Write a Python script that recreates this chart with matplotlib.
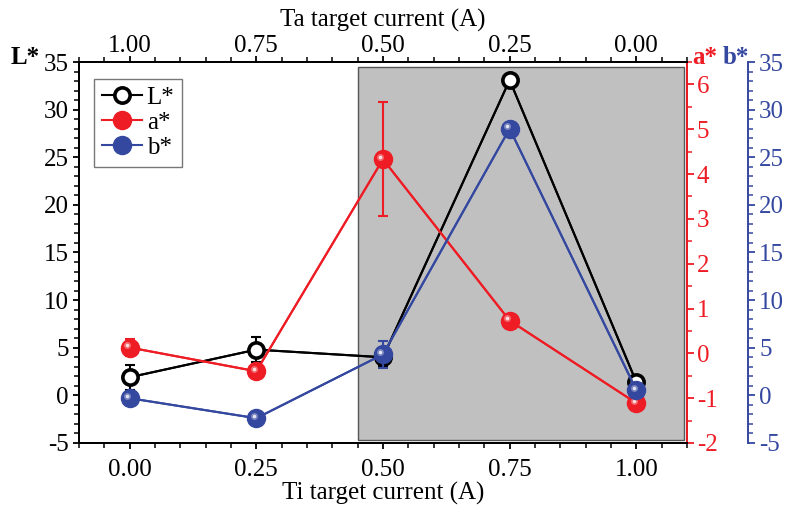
import matplotlib
matplotlib.use("Agg")
import matplotlib.pyplot as plt
from matplotlib.patches import Rectangle
from matplotlib.ticker import MultipleLocator, FormatStrFormatter
from matplotlib import transforms

plt.rcParams['font.family'] = ['Liberation Serif', 'DejaVu Serif']
plt.rcParams['axes.unicode_minus'] = False
plt.rcParams['font.size'] = 18

# data
ti_current = [0.00, 0.25, 0.50, 0.75, 1.00]
L_star = [1.9, 4.8, 4.0, 33.1, 1.4]
L_err = [1.3, 1.3, 0.9, 0.3, 0.3]
a_star = [0.13, -0.40, 4.33, 0.73, -1.11]
a_err = [0.2, 0.15, 1.27, 0.1, 0.1]
b_star = [-0.3, -2.4, 4.3, 28.0, 0.56]
b_err = [0.3, 0.3, 1.4, 0.5, 0.3]

red = '#ee1c24'
blue = '#3548a0'

fig = plt.figure(figsize=(7.92, 5.13), dpi=100)
ax = fig.add_axes([0.0997, 0.1365, 0.7677, 0.7426])
ax_a = ax.twinx()
ax_b = ax.twinx()
ax_b.spines['right'].set_position(('outward', 44))

# shaded region
ax.add_patch(Rectangle((0.45, -4.7), 0.644, 39.2, facecolor='#c0c0c0',
                       edgecolor='#555555', lw=1.0, zorder=0))

def highlight(axis, xs, ys):
    # soft white spot to mimic the shaded spheres
    tr = transforms.offset_copy(axis.transData, fig=fig, x=-1.8, y=1.8, units='points')
    axis.plot(xs, ys, 'o', ms=5, color='white', alpha=0.35, mec='none',
              transform=tr, zorder=5)
    axis.plot(xs, ys, 'o', ms=2.5, color='white', alpha=0.8, mec='none',
              transform=tr, zorder=5)

ax.errorbar(ti_current, L_star, yerr=L_err, color='black', lw=1.5, capsize=3.5,
            elinewidth=1.5, capthick=1.5, zorder=2)
hL, = ax.plot(ti_current, L_star, '-o', color='black', lw=1.5, ms=11,
              mfc='white', mec='black', mew=2.6, label='L*', zorder=3)

ax_a.errorbar(ti_current, a_star, yerr=a_err, color=red, lw=1.5, capsize=3.5,
              elinewidth=1.5, capthick=1.5, zorder=2)
ha, = ax_a.plot(ti_current, a_star, '-o', color=red, lw=1.5, ms=13,
                mfc=red, mec=red, label='a*', zorder=3)
highlight(ax_a, ti_current, a_star)

ax_b.errorbar(ti_current, b_star, yerr=b_err, color=blue, lw=1.5, capsize=3.5,
              elinewidth=1.5, capthick=1.5, zorder=2)
hb, = ax_b.plot(ti_current, b_star, '-o', color=blue, lw=1.5, ms=13,
                mfc=blue, mec=blue, label='b*', zorder=3)
highlight(ax_b, ti_current, b_star)

# limits and ticks
ax.set_xlim(-0.1, 1.1)
ax.set_ylim(-5, 35)
ax_a.set_ylim(-2, 6.5)
ax_b.set_ylim(-5, 35)

ax.xaxis.set_major_locator(MultipleLocator(0.25))
ax.xaxis.set_minor_locator(MultipleLocator(0.05))
ax.xaxis.set_major_formatter(FormatStrFormatter('%.2f'))
ax.yaxis.set_major_locator(MultipleLocator(5))
ax.yaxis.set_minor_locator(MultipleLocator(1))
ax.tick_params(axis='both', which='major', direction='out', length=4.5, width=1.3, pad=3)
ax.tick_params(axis='both', which='minor', direction='out', length=3.5, width=1.1)
ax.tick_params(axis='x', which='major', pad=7)

ax_a.yaxis.set_major_locator(MultipleLocator(1))
ax_a.yaxis.set_minor_locator(MultipleLocator(0.5))
ax_a.tick_params(axis='y', which='major', direction='out', length=5, width=1.3,
                 colors=red, pad=2)
ax_a.tick_params(axis='y', which='minor', direction='out', length=3.5, width=1.1, colors=red)

ax_b.yaxis.set_major_locator(MultipleLocator(5))
ax_b.yaxis.set_minor_locator(MultipleLocator(1))
ax_b.tick_params(axis='y', which='major', direction='out', length=5, width=1.3,
                 colors=blue, pad=3)
ax_b.tick_params(axis='y', which='minor', direction='out', length=3.5, width=1.1, colors=blue)

for a_ in (ax, ax_a, ax_b):
    for s in a_.spines.values():
        s.set_linewidth(1.4)
ax_a.spines['right'].set_color(red)
ax_b.spines['right'].set_color(blue)

# top axis: Ta target current runs the other way
top = ax.secondary_xaxis('top', functions=(lambda v: 1 - v, lambda v: 1 - v))
top.xaxis.set_major_locator(MultipleLocator(0.25))
top.xaxis.set_minor_locator(MultipleLocator(0.05))
top.xaxis.set_major_formatter(FormatStrFormatter('%.2f'))
top.tick_params(which='major', direction='out', length=4.5, width=1.3, pad=-1)
top.tick_params(which='minor', direction='out', length=3.5, width=1.1)
top.spines['top'].set_linewidth(1.4)
top.set_xlabel('Ta target current (A)', labelpad=6)

ax.set_xlabel('Ti target current (A)', labelpad=1)

# axis titles
fig.text(0.013, 0.888, 'L*', fontweight='bold', fontsize=18, ha='left', va='center')
fig.text(0.874, 0.888, 'a*', fontweight='bold', fontsize=18, color=red, ha='left', va='center')
fig.text(0.913, 0.888, 'b*', fontweight='bold', fontsize=18, color=blue, ha='left', va='center')

leg = ax.legend(handles=[hL, ha, hb], loc='upper left', bbox_to_anchor=(0.025, 0.955),
                fontsize=18, frameon=True, fancybox=False, borderpad=0.3,
                handlelength=1.6, handletextpad=0.2, labelspacing=0.1,
                borderaxespad=0)
leg.get_frame().set_edgecolor('#555555')
leg.get_frame().set_linewidth(1.0)
leg.set_zorder(10)

fig.savefig('out.png', dpi=100)
